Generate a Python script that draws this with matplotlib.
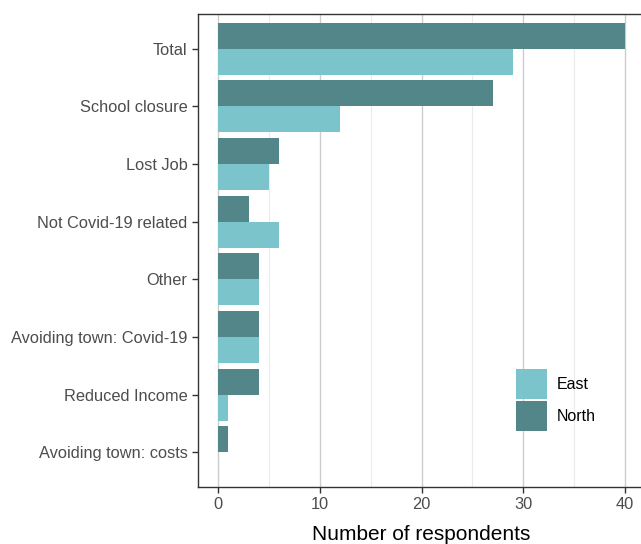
import matplotlib
matplotlib.use("Agg")
import matplotlib.pyplot as plt
import matplotlib.patches as patches
import numpy as np

plt.rcParams['font.family'] = ['Liberation Sans', 'DejaVu Sans']

# data, top to bottom
reasons = ["Total", "School closure", "Lost Job", "Not Covid-19 related",
           "Other", "Avoiding town: Covid-19", "Reduced Income",
           "Avoiding town: costs"]
north = [40, 27, 6, 3, 4, 4, 4, 1]
east = [29, 12, 5, 6, 4, 4, 1, 0]

east_color = "#7BC4CC"
north_color = "#528689"

W, H = 641, 544
fig = plt.figure(figsize=(W / 100, H / 100), dpi=100)
ax = fig.add_axes([198 / W, 1 - 487 / H, (645.3 - 198) / W, (487 - 14) / H])

pos = np.arange(len(reasons))
bh = 0.45
ax.barh(pos - bh / 2, north, height=bh, color=north_color, label="North", zorder=3)
ax.barh(pos + bh / 2, east, height=bh, color=east_color, label="East", zorder=3)

ax.set_xlim(-2, 42)
ax.set_ylim(len(reasons) - 1 + 0.6, -0.6)
ax.set_yticks(pos)
ax.set_yticklabels(reasons)
ax.set_xticks([0, 10, 20, 30, 40])
ax.set_xticks([5, 15, 25, 35], minor=True)

ax.grid(axis="x", which="major", color="#cccccc", linewidth=1.0, zorder=0)
ax.grid(axis="x", which="minor", color="#ebebeb", linewidth=0.8, zorder=0)
ax.set_axisbelow(True)

for s in ax.spines.values():
    s.set_color("#333333")
    s.set_linewidth(1.0)

ax.tick_params(axis="both", which="major", length=4, width=1.0, color="#333333",
               labelcolor="#4d4d4d", labelsize=11.8, pad=3.5)
ax.tick_params(axis="both", which="minor", length=0)

ax.set_xlabel("Number of respondents", fontsize=15, color="black", labelpad=9)

handles = [patches.Patch(facecolor=east_color, label="East"),
           patches.Patch(facecolor=north_color, label="North")]
fig.legend(handles=handles, loc="upper left", bbox_to_anchor=(505 / W, 1 - 358 / H),
           frameon=False, fontsize=11.5, handlelength=1.9, handleheight=2.5,
           handletextpad=0.65, labelspacing=0.15, borderpad=0.2)

fig.savefig("out.png", dpi=100)
